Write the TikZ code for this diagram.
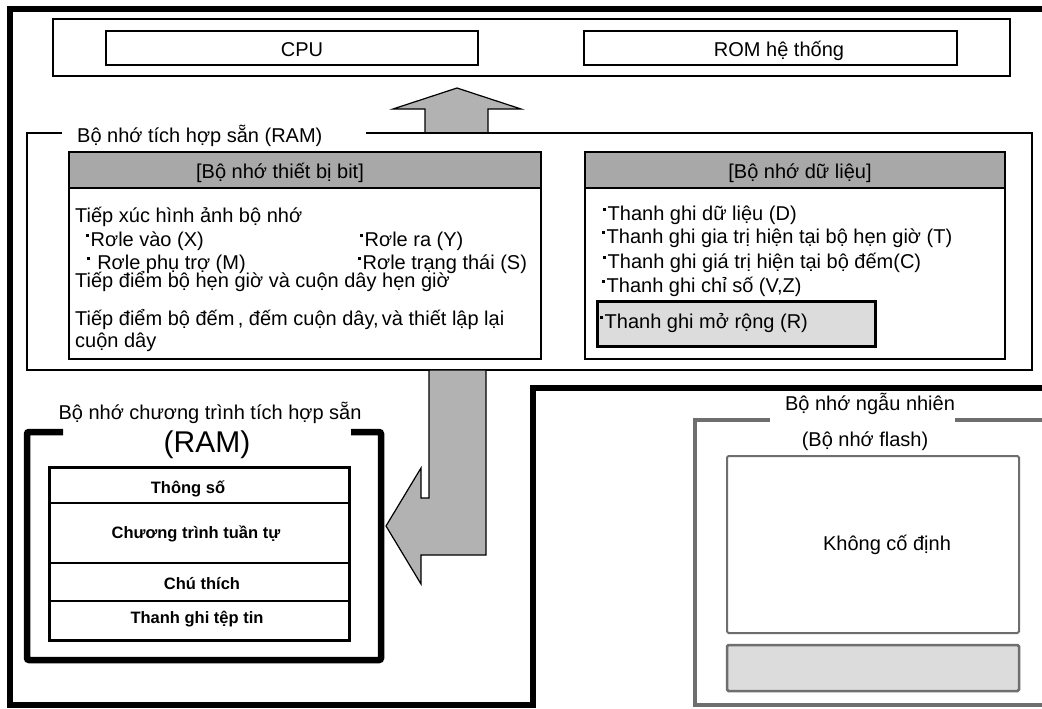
\documentclass[tikz,border=0pt]{standalone}
\usepackage{fontspec}
\setmainfont{Liberation Sans}
\definecolor{arrowgray}{HTML}{B2B2B2}
\definecolor{headgray}{HTML}{A8A8A8}
\definecolor{lightfill}{HTML}{DCDCDC}
\definecolor{framegray}{HTML}{6E6E6E}
\newcommand\bul{\rule[0.47em]{3pt}{3pt}\hspace{1.5pt}}
\tikzset{
  box/.style={draw, inner sep=0pt, outer sep=0pt, anchor=north west},
  txt/.style={inner sep=0pt, anchor=base west, font=\fontsize{20}{24}\selectfont},
  ctxt/.style={inner sep=0pt, anchor=base, font=\fontsize{20}{24}\selectfont},
  bld/.style={inner sep=0pt, anchor=base, font=\bfseries\fontsize{16.5}{19}\selectfont},
  blockarrow/.style={draw, line width=1.2pt, fill=arrowgray, line join=miter},
}
\begin{document}
\begin{tikzpicture}[x=1pt,y=-1pt]
\useasboundingbox (0,0) rectangle (1042,709);
\fill[white] (0,0) rectangle (1042,709);
\clip (0,0) rectangle (1042,709);

% outer frame
\draw[line width=6pt, line join=miter] (1060,9) -- (10,9) -- (10,705) -- (533,705) -- (533,388) -- (1060,388);

% top container
\node[box, line width=1.5pt, minimum width=957pt, minimum height=57pt] (top) at (53,19) {};
\node[box, line width=2pt, minimum width=372pt, minimum height=34pt] (cpu) at (106,31) {};
\node[box, line width=2pt, minimum width=373pt, minimum height=34pt] (rom) at (584,31) {};
\node[ctxt] (cput) at (302,57) {CPU};
\node[ctxt] (romt) at (779,57) {ROM hệ thống};

% up arrow
\draw[blockarrow] (425,133) -- (425,109) -- (393,109) -- (457,88) -- (521,109) -- (488,109) -- (488,133) -- cycle;

% built-in RAM frame
\draw[line width=2pt, line join=miter] (62,133) -- (27,133) -- (27,370) -- (1032,370) -- (1032,133) -- (366,133);
\node[txt] (ramt) at (77,142) {Bộ nhớ tích hợp sẵn (RAM)};

% bit device memory
\node[box, line width=1.5pt, minimum width=472pt, minimum height=207pt] (bitbox) at (69,152) {};
\node[box, line width=1.5pt, fill=headgray, minimum width=472pt, minimum height=36pt] (bithead) at (69,152) {};
\node[ctxt] (bitht) at (280,178) {[Bộ nhớ thiết bị bit]};
\node[txt] (l1) at (75,222) {Tiếp xúc hình ảnh bộ nhớ};
\node[txt] (l2) at (86,246) {\bul Rơle vào (X)};
\node[txt] (l3) at (360,246) {\bul Rơle ra (Y)};
\node[txt] (l4) at (87,269) {\bul\ Rơle phụ trợ (M)};
\node[txt] (l5) at (358,269) {\bul Rơle trạng thái (S)};
\node[txt] (l6) at (75,287) {Tiếp điểm bộ hẹn giờ và cuộn dây hẹn giờ};
\node[txt] (l7) at (75,325) {Tiếp điểm bộ đếm\,, đếm cuộn dây,\,và thiết lập lại};
\node[txt] (l8) at (75,347) {cuộn dây};

% data memory
\node[box, line width=1.5pt, minimum width=420pt, minimum height=207pt] (databox) at (585,152) {};
\node[box, line width=1.5pt, fill=headgray, minimum width=420pt, minimum height=36pt] (datahead) at (585,152) {};
\node[ctxt] (dataht) at (800,178) {[Bộ nhớ dữ liệu]};
\node[box, line width=3pt, fill=lightfill, minimum width=278pt, minimum height=45pt] (ext) at (597,301) {};
\node[txt] (r1) at (603,220) {\bul Thanh ghi dữ liệu (D)};
\node[txt] (r2) at (602,243) {\bul Thanh ghi gia trị hiện tại bộ hẹn giờ (T)};
\node[txt] (r3) at (603,268) {\bul Thanh ghi giá trị hiện tại bộ đếm(C)};
\node[txt] (r4) at (602,292) {\bul Thanh ghi chỉ số (V,Z)};
\node[txt] (r5) at (600,328) {\bul Thanh ghi mở rộng (R)};

% down-left arrow
\draw[blockarrow] (429,370) -- (429,498) -- (421,498) -- (421,468) -- (386,526) -- (421,584) -- (421,555) -- (486,555) -- (486,370) -- cycle;

% program memory frame
\draw[line width=6.5pt, rounded corners=2pt] (63,432) -- (27,432) -- (27,660) -- (381,660) -- (381,432) -- (351,432);
\node[ctxt] (pgt1) at (210,419) {Bộ nhớ chương trình tích hợp sẵn};
\node[ctxt, font=\fontsize{30}{34}\selectfont] (pgt2) at (207,452) {(RAM)};
\node[box, line width=2pt, minimum width=300pt, minimum height=36pt] (row1) at (49,467) {};
\node[box, line width=2pt, minimum width=300pt, minimum height=60pt] (row2) at (49,503) {};
\node[box, line width=2pt, minimum width=300pt, minimum height=38pt] (row3) at (49,563) {};
\node[box, line width=2pt, minimum width=300pt, minimum height=39pt] (row4) at (49,601) {};
\draw[line width=3pt] (49,467) rectangle (349,640);
\node[bld] (t1) at (188,493) {Thông số};
\node[bld] (t2) at (196,538) {Chương trình tuần tự};
\node[bld] (t3) at (202,589) {Chú thích};
\node[bld] (t4) at (197,623) {Thanh ghi tệp tin};

% flash frame
\draw[line width=4.5pt, draw=framegray, line join=miter] (770,420) -- (695,420) -- (695,705) -- (1060,705);
\draw[line width=4.5pt, draw=framegray] (955,420) -- (1060,420);
\node[ctxt] (fl1) at (870,410) {Bộ nhớ ngẫu nhiên};
\node[ctxt] (fl2) at (865,446) {(Bộ nhớ flash)};
\node[box, line width=2pt, draw=framegray, rounded corners=1.5pt, minimum width=292pt, minimum height=177pt] (nonfix) at (727,456) {};
\node[ctxt] (nft) at (887,550) {Không cố định};
\node[box, line width=2.5pt, draw=framegray, fill=lightfill, rounded corners=1.5pt, minimum width=292pt, minimum height=46pt] (bar) at (727,645) {};
\end{tikzpicture}
\end{document}
